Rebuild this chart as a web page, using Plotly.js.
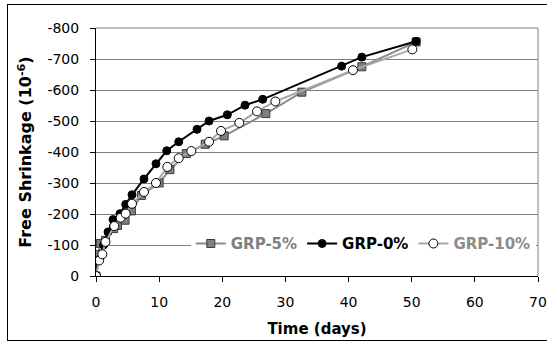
<!DOCTYPE html>
<html>
<head>
<meta charset="utf-8">
<script src="https://cdn.plot.ly/plotly-3.0.1.min.js"></script>
<style>
html,body{margin:0;padding:0;background:#fff;}
#chart{width:547px;height:343px;position:absolute;left:0;top:0;}
#frame{position:absolute;left:7px;top:4px;width:545px;height:337px;border:1px solid #000;pointer-events:none;box-sizing:border-box;}
</style>
</head>
<body>
<div id="chart"></div>
<div id="frame"></div>
<script>
// Data
const days5  = [0, 0.3, 0.7, 1.5, 2.8, 3.4, 4.6, 5.6, 7.2, 10.0, 11.7, 14.3, 17.3, 20.3, 26.9, 32.6, 42.1, 50.7];
const shrink5 = [0, -70, -105, -115, -153, -163, -180, -210, -260, -300, -343, -395, -425, -452, -524, -593, -675, -755];

const days0  = [0, 0.3, 1.2, 1.9, 2.7, 3.8, 4.7, 5.7, 7.6, 9.5, 11.2, 13.1, 16.0, 17.9, 20.8, 23.6, 26.4, 38.9, 42.1, 50.7];
const shrink0 = [0, -50, -100, -142, -182, -201, -231, -262, -313, -362, -404, -433, -473, -500, -520, -551, -570, -677, -706, -757];

const days10  = [0, 0.5, 1.0, 1.5, 2.9, 3.9, 4.7, 5.7, 7.6, 9.5, 11.3, 13.1, 15.1, 17.9, 19.8, 22.7, 25.5, 28.4, 40.7, 50.1];
const shrink10 = [0, -50, -70, -110, -161, -188, -201, -233, -271, -300, -352, -380, -403, -433, -468, -494, -531, -563, -664, -731];

const seriesNames = ['GRP-5%', 'GRP-0%', 'GRP-10%'];
const yTickVals = [0, -100, -200, -300, -400, -500, -600, -700, -800];
const yTickText = ['0', '-100', '-200', '-300', '-400', '-500', '-600', '-700', '-800'];
const xTickVals = [0, 10, 20, 30, 40, 50, 60, 70];

const FONT = 'DejaVu Sans, Liberation Sans, Arial, sans-serif';

const traces = [
  {
    x: days5, y: shrink5, type: 'scatter', mode: 'lines+markers',
    name: '<b><span style="color:#808080">' + seriesNames[0] + '</span></b>',
    line: {color: '#8c8c8c', width: 2},
    marker: {symbol: 'square', size: 8, color: '#808080', line: {color: '#3a3a3a', width: 1}}
  },
  {
    x: days0, y: shrink0, type: 'scatter', mode: 'lines+markers',
    name: '<b><span style="color:#000000">' + seriesNames[1] + '</span></b>',
    line: {color: '#000000', width: 2},
    marker: {symbol: 'circle', size: 8, color: '#000000', line: {color: '#000000', width: 1}}
  },
  {
    x: days10, y: shrink10, type: 'scatter', mode: 'lines+markers',
    name: '<b><span style="color:#8c8c8c">' + seriesNames[2] + '</span></b>',
    line: {color: '#a8a8a8', width: 2},
    marker: {symbol: 'circle', size: 9, color: '#ffffff', line: {color: '#000000', width: 1}}
  }
];

const layout = {
  width: 547, height: 343,
  margin: {l: 96, r: 9, t: 28, b: 67, pad: 0},
  paper_bgcolor: '#ffffff', plot_bgcolor: '#ffffff',
  font: {family: FONT, size: 14, color: '#000'},
  showlegend: true,
  legend: {
    orientation: 'h', x: 0.995, xanchor: 'right', y: 0.13, yanchor: 'middle',
    bgcolor: '#ffffff', borderwidth: 0,
    font: {family: FONT, size: 15, color: '#000'},
    itemwidth: 30, tracegroupgap: 0
  },
  xaxis: {
    range: [0, 70], tickvals: xTickVals, ticks: 'outside', ticklen: 5, tickcolor: '#000',
    showline: true, linecolor: '#000', linewidth: 1, mirror: false,
    showgrid: false, zeroline: false,
    tickfont: {size: 14}, ticklabelstandoff: 8,
    title: {text: '<b>Time (days)</b>', font: {size: 15}, standoff: 14}
  },
  yaxis: {
    range: [0, -800], tickvals: yTickVals, ticktext: yTickText,
    ticks: 'outside', ticklen: 5, tickcolor: '#000',
    showline: true, linecolor: '#000', linewidth: 1,
    showgrid: true, gridcolor: '#7f7f7f', gridwidth: 1, zeroline: false,
    tickfont: {size: 14}, ticklabelstandoff: 8,
    title: {text: '<b>Free Shrinkage (10<sup>-6</sup>)</b>', font: {size: 16}, standoff: 11}
  },
  shapes: [
    {type: 'line', xref: 'paper', yref: 'paper', x0: 1, x1: 1, y0: 0, y1: 1, line: {color: '#7f7f7f', width: 1}},
    {type: 'line', xref: 'paper', yref: 'paper', x0: 0, x1: 1, y0: 1, y1: 1, line: {color: '#7f7f7f', width: 1}}
  ]
};

Plotly.newPlot('chart', traces, layout, {displayModeBar: false, staticPlot: true});
</script>
</body>
</html>
